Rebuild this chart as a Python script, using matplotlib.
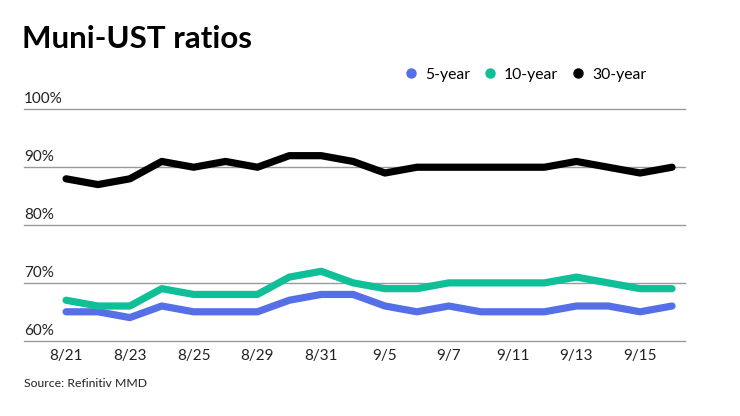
import matplotlib
matplotlib.use("Agg")
import matplotlib.pyplot as plt
from matplotlib.lines import Line2D

plt.rcParams['font.family'] = ['Lato', 'DejaVu Sans']

# trading days shown on the chart
dates = ['8/21', '8/22', '8/23', '8/24', '8/25', '8/28', '8/29', '8/30', '8/31', '9/1',
         '9/5', '9/6', '9/7', '9/8', '9/11', '9/12', '9/13', '9/14', '9/15', '9/18']

# ratios in percent
five_year = [65, 65, 64, 66, 65, 65, 65, 67, 68, 68, 66, 65, 66, 65, 65, 65, 66, 66, 65, 66]
ten_year = [67, 66, 66, 69, 68, 68, 68, 71, 72, 70, 69, 69, 70, 70, 70, 70, 71, 70, 69, 69]
thirty_year = [88, 87, 88, 91, 90, 91, 90, 92, 92, 91, 89, 90, 90, 90, 90, 90, 91, 90, 89, 90]

y_ticks = [60, 70, 80, 90, 100]

c_5 = '#5570e6'
c_10 = '#0fbf98'
c_30 = '#000000'

fig = plt.figure(figsize=(7.4, 4.16), dpi=100)
ax = fig.add_axes([0.0324, 0.181, 0.893, 0.556])

x = list(range(len(dates)))
ax.plot(x, five_year, color=c_5, lw=5.2, solid_capstyle='round', solid_joinstyle='round', zorder=3)
ax.plot(x, ten_year, color=c_10, lw=5.2, solid_capstyle='round', solid_joinstyle='round', zorder=3)
ax.plot(x, thirty_year, color=c_30, lw=5.2, solid_capstyle='round', solid_joinstyle='round', zorder=3)

ax.set_xlim(-1.32, 19.4)
ax.set_ylim(60, 100)

# gridlines with labels sitting above them
for t in y_ticks:
    ax.axhline(t, color='#9a9a9a', lw=1, zorder=1, clip_on=False)
    ax.text(-1.32, t + 0.55, f'{t}%', fontsize=11, color='#222222', ha='left', va='bottom')
ax.set_yticks([])

ax.set_xticks(x[::2])
ax.set_xticklabels(dates[::2], fontsize=11, color='#222222')
ax.tick_params(axis='x', length=0, pad=6)

for s in ax.spines.values():
    s.set_visible(False)

fig.text(0.030, 0.907, 'Muni-UST ratios', fontsize=22.5, fontweight='bold', color='black', ha='left', va='center')

handles = [Line2D([], [], ls='none', marker='o', ms=6.5, color=c_5, label='5-year'),
           Line2D([], [], ls='none', marker='o', ms=6.5, color=c_10, label='10-year'),
           Line2D([], [], ls='none', marker='o', ms=6.5, color=c_30, label='30-year')]
fig.legend(handles=handles, loc='center left', bbox_to_anchor=(0.5486, 0.82), ncol=3, frameon=False,
           fontsize=11.3, handletextpad=0.6, columnspacing=0.97, handlelength=0.6, borderaxespad=0,
           borderpad=0)

fig.text(0.032, 0.078, 'Source: Refinitiv MMD', fontsize=8.8, color='#222222', ha='left', va='center')

fig.savefig('out.png', dpi=100)
